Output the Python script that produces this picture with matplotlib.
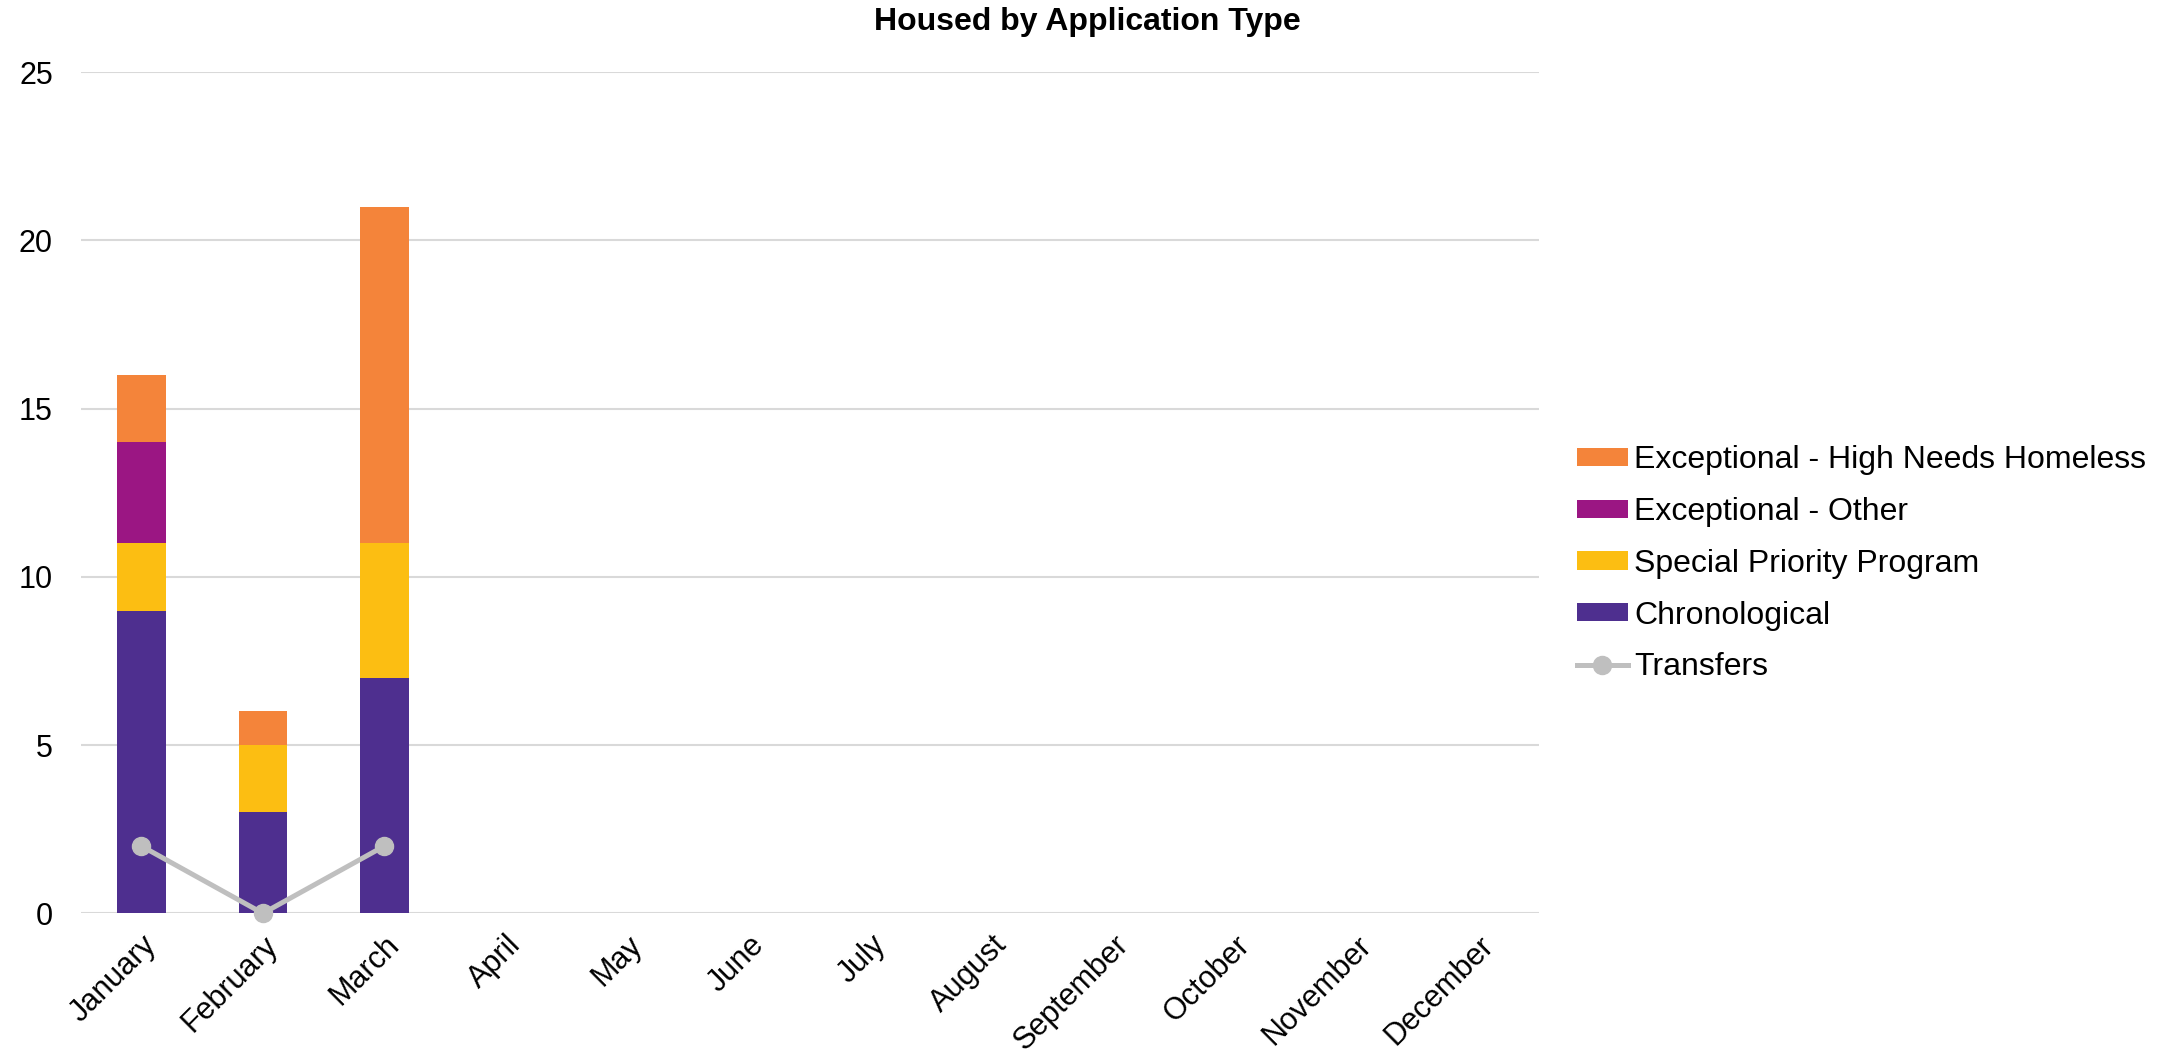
import matplotlib as mpl
mpl.use('Agg')
import matplotlib.pyplot as plt
import numpy as np

plt.rcParams['font.family'] = ['Liberation Sans', 'DejaVu Sans']

months = ["January", "February", "March", "April", "May", "June", "July",
          "August", "September", "October", "November", "December"]
chronological = [9, 3, 7]
special_priority = [2, 2, 4]
exceptional_other = [3, 0, 0]
high_needs = [2, 1, 10]
transfers = [2, 0, 2]

c_chron = "#4e2f8f"
c_spp = "#fcbe12"
c_other = "#9b1683"
c_hnh = "#f4843a"
c_trans = "#bfbfbf"

fig = plt.figure(figsize=(21.77, 10.62), dpi=100)
ax = fig.add_axes([0.037, 0.14, 0.670, 0.792])

x = np.arange(len(chronological))
w = 0.4
b1 = np.array(chronological)
b2 = b1 + np.array(special_priority)
b3 = b2 + np.array(exceptional_other)
ax.bar(x, chronological, w, color=c_chron, label="Chronological", zorder=2)
ax.bar(x, special_priority, w, bottom=b1, color=c_spp, label="Special Priority Program", zorder=2)
ax.bar(x, exceptional_other, w, bottom=b2, color=c_other, label="Exceptional - Other", zorder=2)
ax.bar(x, high_needs, w, bottom=b3, color=c_hnh, label="Exceptional - High Needs Homeless", zorder=2)
ax.plot(x, transfers, color=c_trans, lw=3.6, marker='o', ms=13, label="Transfers",
        zorder=3, clip_on=False)

ax.set_xlim(-0.5, len(months) - 0.5)
ax.set_ylim(0, 25)
ax.set_yticks([0, 5, 10, 15, 20, 25])
ax.set_xticks(np.arange(len(months)))
ax.set_xticklabels(months, rotation=45, ha='right', rotation_mode='anchor')
ax.tick_params(axis='both', length=0, labelsize=22)
ax.tick_params(axis='x', pad=12)
ax.tick_params(axis='y', pad=20)
ax.yaxis.grid(True, color="#d9d9d9", lw=1.5, zorder=0)
ax.set_axisbelow(True)
for s in ax.spines.values():
    s.set_visible(False)

fig.text(0.4994, 0.979, "Housed by Application Type", ha='center', va='center',
         fontsize=23, fontweight='bold')

h, l = ax.get_legend_handles_labels()
want = ["Exceptional - High Needs Homeless", "Exceptional - Other",
        "Special Priority Program", "Chronological", "Transfers"]
hs = [h[l.index(n)] for n in want]
fig.legend(hs, want, loc='center left', bbox_to_anchor=(0.711, 0.469), frameon=False,
           fontsize=23, handlelength=1.6, handleheight=0.5, handletextpad=0.2,
           labelspacing=0.68)

fig.savefig("out.png", dpi=100)
